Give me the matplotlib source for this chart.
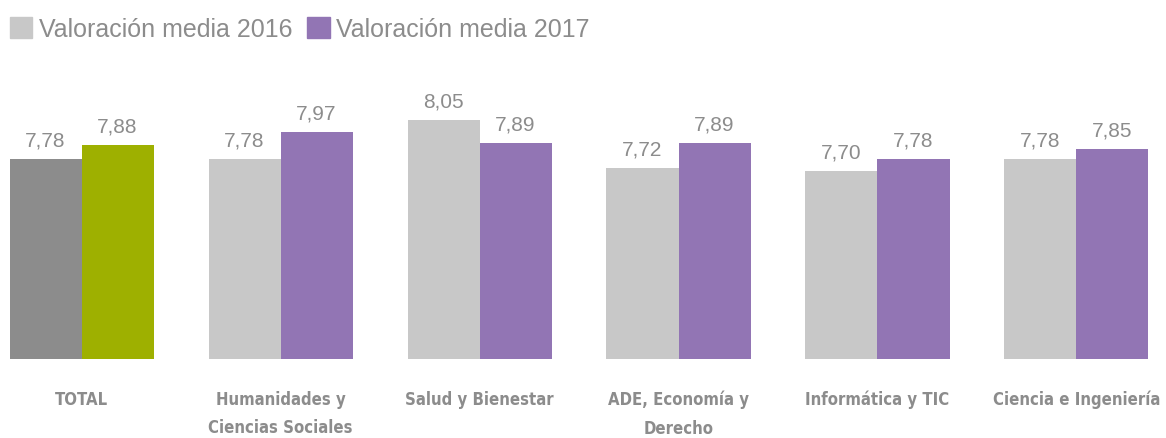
import numpy as np
import matplotlib
matplotlib.use("Agg")
import matplotlib.pyplot as plt
from matplotlib.patches import Patch
from matplotlib import font_manager

categories = ["TOTAL", "Humanidades y\nCiencias Sociales", "Salud y Bienestar",
              "ADE, Economía y\nDerecho", "Informática y TIC", "Ciencia e Ingeniería"]
val_2016 = [7.78, 7.78, 8.05, 7.72, 7.70, 7.78]
val_2017 = [7.88, 7.97, 7.89, 7.89, 7.78, 7.85]
series_names = ["Valoración media 2016", "Valoración media 2017"]

C16, C17 = "#c8c8c8", "#9275b4"
C16_TOT, C17_TOT = "#8c8c8c", "#9eb000"
TXT = "#8c8c8c"

# condensed bold face for the category labels, if one is around
cond = [f.fname for f in font_manager.fontManager.ttflist
        if "condensed" in f.fname.lower() and "bold" in f.fname.lower()
        and "oblique" not in f.fname.lower() and "italic" not in f.fname.lower()]
cat_font = font_manager.FontProperties(fname=cond[0], size=12) if cond else \
    font_manager.FontProperties(family="Roboto", weight="bold", size=11)

fig = plt.figure(figsize=(11.66, 4.39), dpi=100)
ax = fig.add_axes([0.0, 0.18, 1.0, 0.64])

x = np.arange(len(categories))
w = 0.362
cols16 = [C16_TOT] + [C16] * (len(categories) - 1)
cols17 = [C17_TOT] + [C17] * (len(categories) - 1)
b16 = ax.bar(x - w / 2, val_2016, w, color=cols16)
b17 = ax.bar(x + w / 2, val_2017, w, color=cols17)

fmt = lambda v: f"{v:.2f}".replace(".", ",")
for bars, vals in ((b16, val_2016), (b17, val_2017)):
    ax.bar_label(bars, labels=[fmt(v) for v in vals], padding=7,
                 fontsize=15, color=TXT, family="Liberation Sans")

ax.set_ylim(6.41, 8.339)
ax.set_xlim(-0.41, 5.45)
ax.axis("off")

for xi, lab in zip(x, categories):
    ax.text(xi, 6.41 - 0.21, lab, ha="center", va="top", fontproperties=cat_font,
            color=TXT, linespacing=1.75, clip_on=False)

handles = [Patch(color=C16), Patch(color=C17)]
fig.legend(handles, series_names, loc="upper left", bbox_to_anchor=(0.002, 0.975),
           ncol=2, frameon=False, prop={"family": "Liberation Sans", "size": 18},
           labelcolor=TXT, handlelength=0.9, handleheight=0.9, handletextpad=0.25,
           columnspacing=0.6, borderaxespad=0.1, borderpad=0.2)

fig.savefig("out.png", dpi=100)
